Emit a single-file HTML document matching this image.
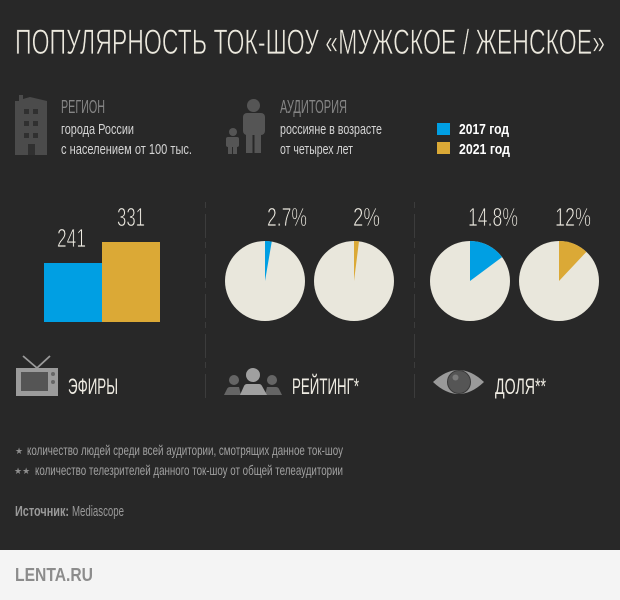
<!DOCTYPE html>
<html>
<head>
<meta charset="utf-8">
<style>
  html, body { margin: 0; padding: 0; background: #282828; }
  svg { display: block; }
  text { font-family: "Liberation Sans Narrow", "Liberation Sans", "DejaVu Sans", sans-serif; }
  .thin { stroke: #282828; stroke-width: 0.7; paint-order: normal; }
</style>
</head>
<body>
<svg width="620" height="600" viewBox="0 0 620 600" xmlns="http://www.w3.org/2000/svg">
  <rect x="0" y="0" width="620" height="600" fill="#282828"/>

  <!-- Title -->
  <text class="thin" x="15" y="54" font-size="35" fill="#ece9de" textLength="590" lengthAdjust="spacingAndGlyphs">ПОПУЛЯРНОСТЬ ТОК-ШОУ «МУЖСКОЕ / ЖЕНСКОЕ»</text>

  <!-- Building icon -->
  <polygon points="15,101 19,101 19,95 23,95 23,99 30,97 47,101 47,155 15,155" fill="#4b4b4b"/>
  <g fill="#303030">
    <rect x="24" y="109" width="5" height="5"/>
    <rect x="33" y="109" width="5" height="5"/>
    <rect x="24" y="121" width="5" height="5"/>
    <rect x="33" y="121" width="5" height="5"/>
    <rect x="24" y="133" width="5" height="5"/>
    <rect x="33" y="133" width="5" height="5"/>
    <rect x="28" y="144" width="7" height="11"/>
  </g>

  <text x="61" y="113" font-size="18" fill="#858585" textLength="44" lengthAdjust="spacingAndGlyphs">РЕГИОН</text>
  <text x="61" y="134" font-size="15" fill="#d4d4d4" textLength="73" lengthAdjust="spacingAndGlyphs">города России</text>
  <text x="61" y="154" font-size="15" fill="#d4d4d4" textLength="131" lengthAdjust="spacingAndGlyphs">с населением от 100 тыс.</text>

  <!-- People (adult + child) icon -->
  <g fill="#555555">
    <circle cx="253.5" cy="105.5" r="6.5"/>
    <rect x="243" y="113" width="22" height="22" rx="4"/>
    <rect x="246" y="130" width="6.5" height="23"/>
    <rect x="254.5" y="130" width="6.5" height="23"/>
    <circle cx="233" cy="132" r="4"/>
    <rect x="226" y="137" width="13" height="10" rx="2"/>
    <rect x="228" y="145" width="4" height="9"/>
    <rect x="233" y="145" width="4" height="9"/>
  </g>

  <text x="280" y="113" font-size="18" fill="#858585" textLength="67" lengthAdjust="spacingAndGlyphs">АУДИТОРИЯ</text>
  <text x="280" y="134" font-size="15" fill="#d4d4d4" textLength="102" lengthAdjust="spacingAndGlyphs">россияне в возрасте</text>
  <text x="280" y="154" font-size="15" fill="#d4d4d4" textLength="73" lengthAdjust="spacingAndGlyphs">от четырех лет</text>

  <!-- Legend -->
  <rect x="437" y="123" width="13" height="12" fill="#009fe3"/>
  <rect x="437" y="142" width="13" height="12" fill="#dba936"/>
  <text x="459" y="134" font-size="15" font-weight="bold" fill="#ffffff" textLength="50" lengthAdjust="spacingAndGlyphs">2017 год</text>
  <text x="459" y="154" font-size="15" font-weight="bold" fill="#ffffff" textLength="51" lengthAdjust="spacingAndGlyphs">2021 год</text>

  <!-- Bars -->
  <rect x="44" y="263" width="58" height="59" fill="#009fe3"/>
  <rect x="102" y="242" width="58" height="80" fill="#dba936"/>
  <text class="thin" x="57" y="247" font-size="26" fill="#efece3" textLength="29" lengthAdjust="spacingAndGlyphs">241</text>
  <text class="thin" x="117" y="226" font-size="26" fill="#efece3" textLength="28" lengthAdjust="spacingAndGlyphs">331</text>

  <!-- Dividers -->
  <line x1="205.5" y1="202" x2="205.5" y2="400" stroke="#3c3c3c" stroke-width="1" stroke-dasharray="6 6 24 4"/>
  <line x1="414.5" y1="202" x2="414.5" y2="400" stroke="#3c3c3c" stroke-width="1" stroke-dasharray="6 6 24 4"/>

  <!-- Pies -->
  <circle cx="265" cy="281" r="40" fill="#e9e7dc"/>
  <path d="M265,281 L265,241 A40,40 0 0 1 271.75,241.58 Z" fill="#009fe3"/>
  <circle cx="354" cy="281" r="40" fill="#e9e7dc"/>
  <path d="M354,281 L354,241 A40,40 0 0 1 359.01,241.31 Z" fill="#dba936"/>
  <circle cx="470" cy="281" r="40" fill="#e9e7dc"/>
  <path d="M470,281 L470,241 A40,40 0 0 1 502.06,257.09 Z" fill="#009fe3"/>
  <circle cx="559" cy="281" r="40" fill="#e9e7dc"/>
  <path d="M559,281 L559,241 A40,40 0 0 1 586.38,251.84 Z" fill="#dba936"/>

  <text class="thin" x="267" y="226" font-size="26" fill="#efece3" textLength="40" lengthAdjust="spacingAndGlyphs">2.7%</text>
  <text class="thin" x="353" y="226" font-size="26" fill="#efece3" textLength="27" lengthAdjust="spacingAndGlyphs">2%</text>
  <text class="thin" x="468" y="226" font-size="26" fill="#efece3" textLength="50" lengthAdjust="spacingAndGlyphs">14.8%</text>
  <text class="thin" x="555" y="226" font-size="26" fill="#efece3" textLength="36" lengthAdjust="spacingAndGlyphs">12%</text>

  <!-- TV icon -->
  <line x1="23" y1="356" x2="37" y2="368" stroke="#9a9a9a" stroke-width="1.8"/>
  <line x1="50" y1="356" x2="37" y2="368" stroke="#9a9a9a" stroke-width="1.8"/>
  <rect x="16" y="368" width="42" height="28" fill="#9b9b9b"/>
  <rect x="21" y="372" width="27" height="19" fill="#555555"/>
  <circle cx="53" cy="374" r="2" fill="#666666"/>
  <circle cx="53" cy="382" r="2" fill="#666666"/>
  <text x="68" y="394" font-size="22" fill="#efece3" textLength="50" lengthAdjust="spacingAndGlyphs">ЭФИРЫ</text>

  <!-- Rating (group) icon -->
  <g fill="#656565">
    <circle cx="234" cy="380" r="5"/>
    <circle cx="272" cy="380" r="5"/>
    <path d="M224,395 L227,389 Q228,387 230,387 L239,387 L241,395 Z"/>
    <path d="M282,395 L279,389 Q278,387 276,387 L267,387 L265,395 Z"/>
  </g>
  <g fill="#a0a0a0">
    <circle cx="253" cy="375" r="7"/>
    <path d="M240,395 L244,386 Q245,384 247,384 L259,384 Q261,384 262,386 L267,395 Z"/>
  </g>
  <text x="292" y="394" font-size="22" fill="#efece3" textLength="67" lengthAdjust="spacingAndGlyphs">РЕЙТИНГ*</text>

  <!-- Eye icon -->
  <path d="M433,382 Q458.5,358 484,382 Q458.5,406 433,382 Z" fill="#9a9a9a"/>
  <circle cx="459" cy="382" r="11.5" fill="#555555" stroke="#3a3a3a" stroke-width="1"/>
  <circle cx="455.5" cy="377.5" r="3" fill="#7a7a7a"/>
  <text x="495" y="394" font-size="22" fill="#efece3" textLength="51" lengthAdjust="spacingAndGlyphs">ДОЛЯ**</text>

  <!-- Footnotes -->
  <text x="15" y="454" font-size="9" fill="#8e8e8e" style="font-family:'DejaVu Sans',sans-serif">★</text>
  <text x="27" y="455" font-size="14" fill="#a0a0a0" textLength="316" lengthAdjust="spacingAndGlyphs">количество людей среди всей аудитории, смотрящих данное ток-шоу</text>
  <text x="14" y="474" font-size="9" fill="#8e8e8e" style="font-family:'DejaVu Sans',sans-serif">★★</text>
  <text x="35" y="475" font-size="14" fill="#a0a0a0" textLength="308" lengthAdjust="spacingAndGlyphs">количество телезрителей данного ток-шоу от общей телеаудитории</text>

  <text x="15" y="516" font-size="15" font-weight="bold" fill="#9a9a9a" textLength="54" lengthAdjust="spacingAndGlyphs">Источник:</text>
  <text x="72" y="516" font-size="15" fill="#9a9a9a" textLength="52" lengthAdjust="spacingAndGlyphs">Mediascope</text>

  <!-- Footer -->
  <rect x="0" y="550" width="620" height="50" fill="#f4f4f4"/>
  <text x="15" y="581" font-size="18" font-weight="bold" fill="#8c8c8c" textLength="78" lengthAdjust="spacingAndGlyphs">LENTA.RU</text>
</svg>
</body>
</html>
